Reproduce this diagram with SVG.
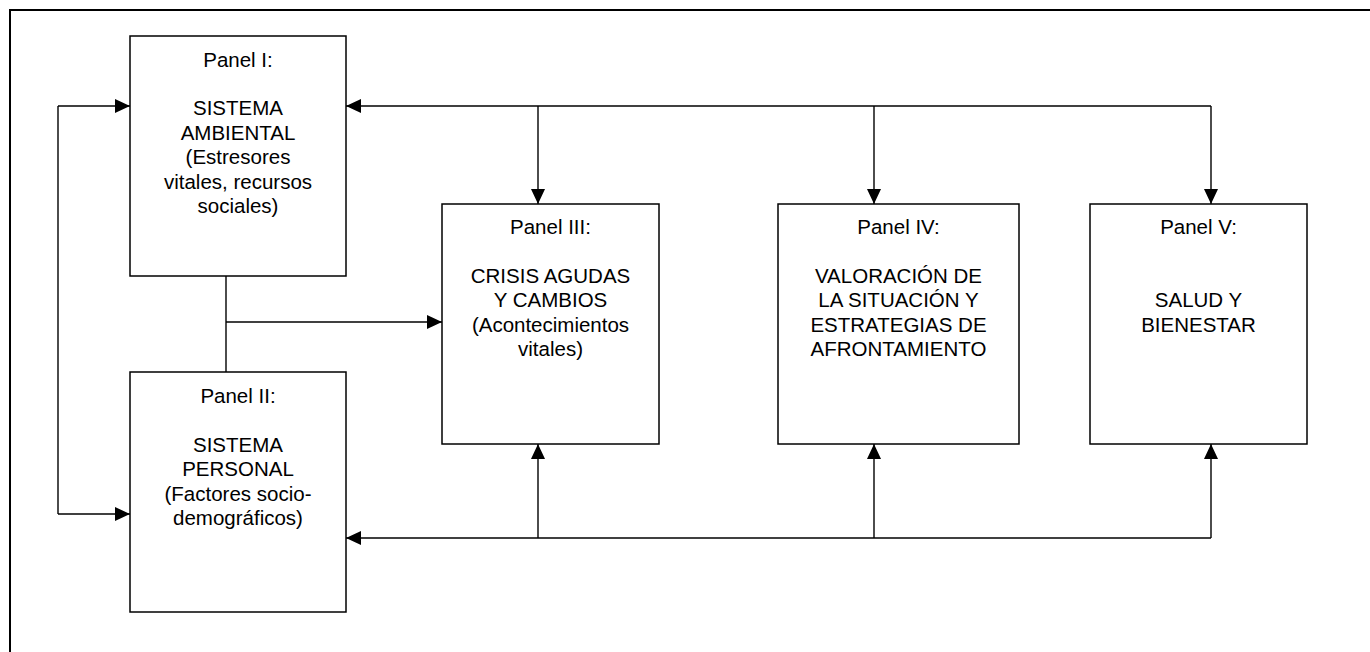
<svg xmlns="http://www.w3.org/2000/svg" width="1370" height="652" viewBox="0 0 1370 652">
<style>
.box{fill:#fff;stroke:#000;stroke-width:1.5}
.frame{fill:none;stroke:#000;stroke-width:2}
.ln{fill:none;stroke:#000;stroke-width:1.4}
.arr{fill:none;stroke:#000;stroke-width:1.4;marker-end:url(#ah)}
text{font-family:"Liberation Sans",Arial,sans-serif;font-size:20.5px;fill:#000;text-anchor:middle}
</style>
<defs>
<marker id="ah" markerUnits="userSpaceOnUse" markerWidth="15" markerHeight="14" refX="15" refY="7" orient="auto" viewBox="0 0 15 14">
<path d="M0,0 L15,7 L0,14 z" fill="#000"/>
</marker>
</defs>
<rect width="1370" height="652" fill="#fff"/>
<path class="frame" d="M10,660 L10,10 L1380,10"/>
<g id="connectors">
<path class="ln" d="M226,276 L226,372"/>
<path class="arr" d="M226,322 L442,322"/>
<path class="arr" d="M58,106 L130,106"/>
<path class="ln" d="M58,106 L58,514"/>
<path class="arr" d="M58,514 L130,514"/>
<path class="arr" d="M1211,106 L346,106"/>
<path class="arr" d="M538,106 L538,204"/>
<path class="arr" d="M874,106 L874,204"/>
<path class="arr" d="M1211,106 L1211,204"/>
<path class="arr" d="M1211,538 L346,538"/>
<path class="arr" d="M538,538 L538,444"/>
<path class="arr" d="M874,538 L874,444"/>
<path class="arr" d="M1211,538 L1211,444"/>
</g>
<g id="panel1">
<rect class="box" x="130" y="36" width="216" height="240"/>
<text x="238" y="67">Panel I:</text>
<text x="238" y="115">SISTEMA</text>
<text x="238" y="140">AMBIENTAL</text>
<text x="238" y="164">(Estresores</text>
<text x="238" y="189">vitales, recursos</text>
<text x="238" y="213">sociales)</text>
</g>
<g id="panel2">
<rect class="box" x="130" y="372" width="216" height="240"/>
<text x="238" y="403">Panel II:</text>
<text x="238" y="452">SISTEMA</text>
<text x="238" y="476">PERSONAL</text>
<text x="238" y="501">(Factores socio-</text>
<text x="238" y="525">demográficos)</text>
</g>
<g id="panel3">
<rect class="box" x="442" y="204" width="217" height="240"/>
<text x="550.5" y="234">Panel III:</text>
<text x="550.5" y="283">CRISIS AGUDAS</text>
<text x="550.5" y="307">Y CAMBIOS</text>
<text x="550.5" y="332">(Acontecimientos</text>
<text x="550.5" y="356">vitales)</text>
</g>
<g id="panel4">
<rect class="box" x="778" y="204" width="241" height="240"/>
<text x="898.5" y="234">Panel IV:</text>
<text x="898.5" y="283">VALORACIÓN DE</text>
<text x="898.5" y="307">LA SITUACIÓN Y</text>
<text x="898.5" y="332">ESTRATEGIAS DE</text>
<text x="898.5" y="356">AFRONTAMIENTO</text>
</g>
<g id="panel5">
<rect class="box" x="1090" y="204" width="217" height="240"/>
<text x="1198.5" y="234">Panel V:</text>
<text x="1198.5" y="307">SALUD Y</text>
<text x="1198.5" y="332">BIENESTAR</text>
</g>
</svg>
